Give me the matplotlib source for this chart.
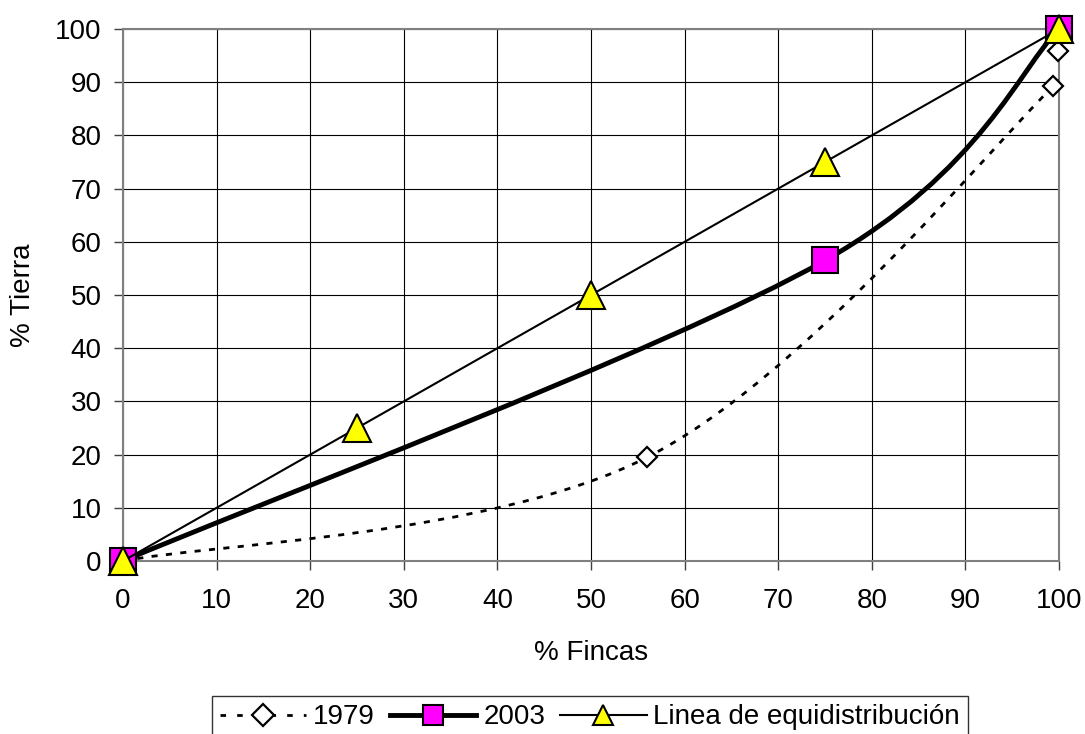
import matplotlib
matplotlib.use("Agg")
import matplotlib.pyplot as plt
from matplotlib.path import Path
from matplotlib.patches import PathPatch
from matplotlib.lines import Line2D

plt.rcParams['font.family'] = ['Liberation Sans', 'DejaVu Sans']

# Data
x1979 = [0, 56, 99.4, 99.9, 100]
y1979 = [0, 19.5, 89.3, 95.8, 100]
x2003 = [0, 75, 100]
y2003 = [0, 56.5, 100]
xeq = [0, 25, 50, 75, 100]
yeq = [0, 25, 50, 75, 100]
xticks = list(range(0, 101, 10))
yticks = list(range(0, 101, 10))


def smooth_path(xs, ys):
    """Excel-style smoothed line as cubic Bezier path (Catmull-Rom control points)."""
    pts = list(zip(xs, ys))
    n = len(pts)
    verts = [pts[0]]
    codes = [Path.MOVETO]
    for i in range(n - 1):
        p0 = pts[i - 1] if i > 0 else pts[i]
        p1 = pts[i]
        p2 = pts[i + 1]
        p3 = pts[i + 2] if i + 2 < n else pts[i + 1]
        c1 = (p1[0] + (p2[0] - p0[0]) / 6, p1[1] + (p2[1] - p0[1]) / 6)
        c2 = (p2[0] - (p3[0] - p1[0]) / 6, p2[1] - (p3[1] - p1[1]) / 6)
        verts += [c1, c2, p2]
        codes += [Path.CURVE4] * 3
    return Path(verts, codes)


FS = 20

fig = plt.figure(figsize=(10.85, 7.34), dpi=100)
ax = fig.add_axes([0.1134, 0.2357, 0.8627, 0.7248])

ax.set_xlim(0, 100)
ax.set_ylim(0, 100)
ax.set_xticks(xticks)
ax.set_yticks(yticks)
ax.grid(True, color='black', linewidth=0.8)
ax.set_axisbelow(True)
for s in ['top', 'right', 'left', 'bottom']:
    ax.spines[s].set_color('#808080')
    ax.spines[s].set_linewidth(1.5)
ax.tick_params(axis='both', labelsize=FS, length=6.5, width=1.0, color='#404040')
ax.tick_params(axis='x', pad=13)
ax.tick_params(axis='y', pad=9)

# 1979
ax.add_patch(PathPatch(smooth_path(x1979, y1979), fill=False, edgecolor='black',
                       linewidth=2.0, linestyle=(0, (2.2, 3.0)), zorder=3))
ax.plot(x1979, y1979, linestyle='none', marker='D', markersize=10, markerfacecolor='white',
        markeredgecolor='black', markeredgewidth=1.6, zorder=4, clip_on=False)

# 2003
ax.add_patch(PathPatch(smooth_path(x2003, y2003), fill=False, edgecolor='black',
                       linewidth=3.5, zorder=5, clip_on=False))
ax.plot(x2003, y2003, linestyle='none', marker='s', markersize=19, markerfacecolor='#FF00FF',
        markeredgecolor='black', markeredgewidth=1.5, zorder=6, clip_on=False)

# equidistribution
ax.plot(xeq, yeq, color='black', linewidth=1.5, marker='^', markersize=20,
        markerfacecolor='#FFFF00', markeredgecolor='black', markeredgewidth=1.5,
        zorder=7, clip_on=False)

ax.set_xlabel('% Fincas', fontsize=FS, labelpad=19)
ax.set_ylabel('% Tierra', fontsize=FS, labelpad=14)

handles = [
    Line2D([], [], color='black', linewidth=2.0, linestyle=(0, (2.0, 4.0)), marker='D',
           markersize=11, markerfacecolor='white', markeredgecolor='black', markeredgewidth=1.6),
    Line2D([], [], color='black', linewidth=3.5, marker='s', markersize=14,
           markerfacecolor='#FF00FF', markeredgecolor='black', markeredgewidth=1.5),
    Line2D([], [], color='black', linewidth=1.5, marker='^', markersize=15,
           markerfacecolor='#FFFF00', markeredgecolor='black', markeredgewidth=1.5),
]
leg = fig.legend(handles, ['1979', '2003', 'Linea de equidistribución'], loc='upper center',
                 bbox_to_anchor=(0.5438, 0.0518), ncol=3, fontsize=FS, frameon=True,
                 fancybox=False, edgecolor='black', handlelength=3.1, handletextpad=0.25,
                 columnspacing=0.55, borderpad=0.3, borderaxespad=0)
leg.get_frame().set_linewidth(1.0)

fig.savefig('out.png', dpi=100)
